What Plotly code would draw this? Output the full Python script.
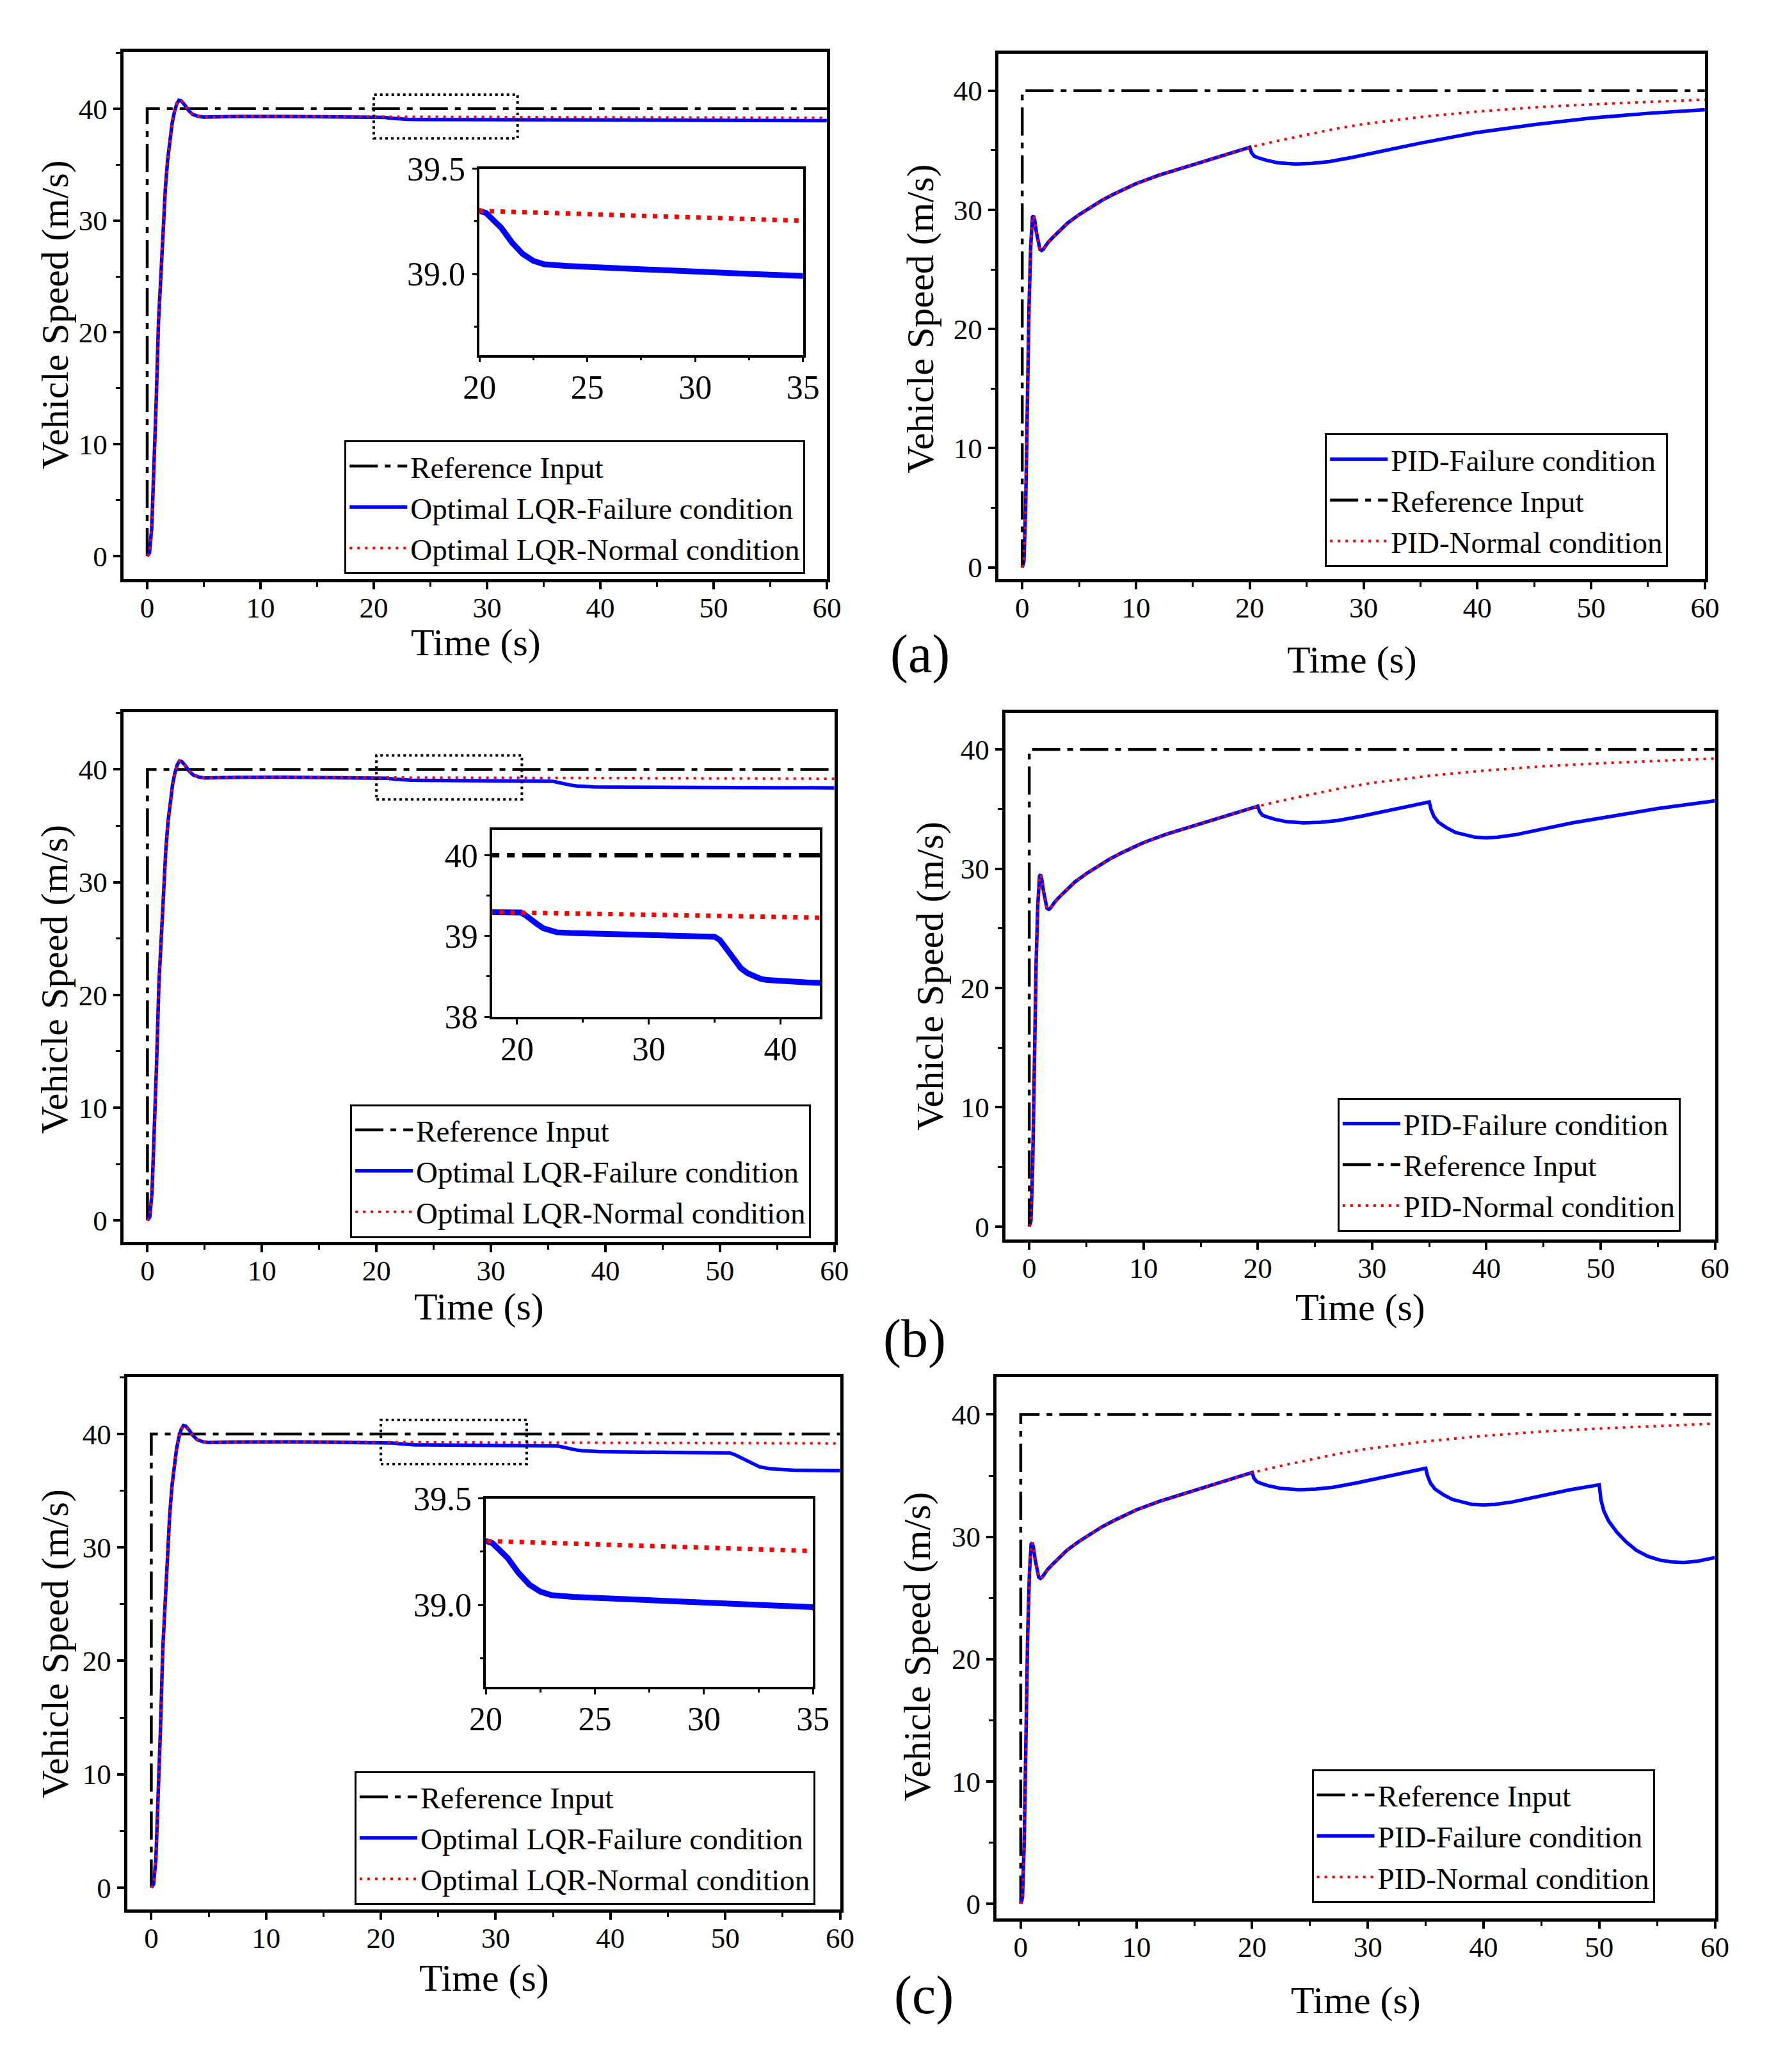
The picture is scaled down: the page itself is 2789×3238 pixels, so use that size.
import plotly.graph_objects as go

W, H = 2789, 3238
FONT = 'Liberation Serif'

# ---------------- data ----------------
# LQR, common start-up (0-20 s)
LQR_T_RISE = [0, 0.2, 0.4, 0.6, 0.8, 1.0, 1.2, 1.4, 1.6, 1.8, 2.0, 2.2, 2.4, 2.6, 2.8,
              3.0, 3.3, 3.6, 4.0, 4.5, 5.0, 6.0, 8.0, 12.0, 16.0, 20.0]
LQR_V_RISE = [0, 0.3, 2.5, 7.5, 14.0, 21.0, 25.5, 29.5, 32.8, 35.4, 37.3, 38.7, 39.7, 40.4, 40.75,
              40.7, 40.35, 39.9, 39.5, 39.32, 39.25, 39.28, 39.3, 39.31, 39.3, 39.30]
# LQR normal condition, 20-60 s
LQR_T_NORM = [20, 25, 30, 35, 40, 45, 50, 55, 60]
LQR_V_NORM = [39.30, 39.285, 39.265, 39.25, 39.235, 39.22, 39.205, 39.19, 39.175]
# LQR first actuator failure at 20 s
LQR_T_F1 = [20, 20.3, 20.7, 21, 21.5, 22, 22.5, 23, 24, 25, 27.5, 30, 32.5, 35]
LQR_V_F1 = [39.30, 39.29, 39.25, 39.22, 39.15, 39.095, 39.062, 39.046, 39.038, 39.033, 39.022,
            39.012, 39.0, 38.99]
# (a) no further failure after 35 s
LQR_T_A_TAIL = [35, 40, 45, 50, 55, 60]
LQR_V_A_TAIL = [38.99, 38.975, 38.96, 38.95, 38.94, 38.93]
# second failure at 35 s
LQR_T_F2 = [35, 35.4, 35.8, 36.2, 36.6, 37, 37.5, 38, 38.5, 39, 40, 42, 45, 50]
LQR_V_F2 = [38.99, 38.95, 38.86, 38.76, 38.67, 38.6, 38.54, 38.5, 38.47, 38.455, 38.44, 38.425,
            38.41, 38.39]
LQR_T_B_TAIL = [50, 55, 60]
LQR_V_B_TAIL = [38.39, 38.38, 38.37]
# third failure at 50 s
LQR_T_F3 = [50, 50.4, 50.8, 51.2, 51.6, 52, 52.5, 53, 54, 55, 56, 58, 60]
LQR_V_F3 = [38.39, 38.33, 38.2, 38.0, 37.78, 37.55, 37.3, 37.1, 36.93, 36.86, 36.82, 36.79, 36.77]

# PID, common start-up (0-20 s)
PID_T_RISE = [0, 0.15, 0.3, 0.45, 0.6, 0.75, 0.9, 1.0, 1.1, 1.25, 1.4, 1.55, 1.7, 1.85, 2.0,
              2.3, 2.7, 3.2, 4, 5, 6, 7, 8, 10, 12, 14, 16, 18, 20]
PID_V_RISE = [0, 0.5, 5, 14, 22, 27, 29.4, 29.5, 29.1, 28.1, 27.2, 26.7, 26.6, 26.7, 26.9,
              27.3, 27.7, 28.2, 28.9, 29.6, 30.2, 30.8, 31.3, 32.2, 32.9, 33.5, 34.1, 34.7, 35.25]
PID_T_NORM = [20, 22.5, 25, 27.5, 30, 35, 40, 45, 50, 55, 60]
PID_V_NORM = [35.25, 35.8, 36.3, 36.8, 37.2, 37.8, 38.25, 38.6, 38.85, 39.05, 39.25]
PID_T_F1 = [20, 20.15, 20.4, 20.8, 21.5, 22.5, 24, 25.5, 27, 29, 31, 33, 35]
PID_V_F1 = [35.25, 34.8, 34.5, 34.35, 34.15, 33.95, 33.85, 33.9, 34.05, 34.4, 34.8, 35.2, 35.6]
PID_T_A_TAIL = [35, 40, 45, 50, 55, 60]
PID_V_A_TAIL = [35.6, 36.5, 37.15, 37.7, 38.1, 38.4]
PID_T_F2 = [35, 35.15, 35.4, 35.8, 36.5, 37.3, 38.2, 39, 40, 41, 42.5, 45, 47.5, 50]
PID_V_F2 = [35.6, 35.0, 34.4, 33.9, 33.45, 33.05, 32.8, 32.65, 32.6, 32.65, 32.85, 33.35, 33.85, 34.25]
PID_T_B_TAIL = [50, 55, 60]
PID_V_B_TAIL = [34.25, 35.05, 35.7]
PID_T_F3 = [50, 50.15, 50.4, 50.8, 51.5, 52.3, 53.2, 54.2, 55.2, 56.2, 57.3, 58.5, 60]
PID_V_F3 = [34.25, 33.0, 32.1, 31.3, 30.4, 29.6, 28.9, 28.4, 28.1, 27.95, 27.9, 28.0, 28.3]

# reference step input
REF_T = [0, 0, 60]
REF_V = [0, 40, 40]

# dotted zoom window drawn on the LQR plots
ZOOM_BOX_X = [20, 32.7]
ZOOM_BOX_Y = [37.35, 41.25]

X_TICKS = [0, 10, 20, 30, 40, 50, 60]
Y_TICKS = [0, 10, 20, 30, 40]


def join(*segs):
    t, v = list(segs[0][0]), list(segs[0][1])
    for st, sv in segs[1:]:
        t += st[1:]
        v += sv[1:]
    return t, v


rise_l, rise_p = (LQR_T_RISE, LQR_V_RISE), (PID_T_RISE, PID_V_RISE)
lqr_norm = join(rise_l, (LQR_T_NORM, LQR_V_NORM))
lqr_fail = {
    'a': join(rise_l, (LQR_T_F1, LQR_V_F1), (LQR_T_A_TAIL, LQR_V_A_TAIL)),
    'b': join(rise_l, (LQR_T_F1, LQR_V_F1), (LQR_T_F2, LQR_V_F2), (LQR_T_B_TAIL, LQR_V_B_TAIL)),
    'c': join(rise_l, (LQR_T_F1, LQR_V_F1), (LQR_T_F2, LQR_V_F2), (LQR_T_F3, LQR_V_F3)),
}
pid_norm = join(rise_p, (PID_T_NORM, PID_V_NORM))
pid_fail = {
    'a': join(rise_p, (PID_T_F1, PID_V_F1), (PID_T_A_TAIL, PID_V_A_TAIL)),
    'b': join(rise_p, (PID_T_F1, PID_V_F1), (PID_T_F2, PID_V_F2), (PID_T_B_TAIL, PID_V_B_TAIL)),
    'c': join(rise_p, (PID_T_F1, PID_V_F1), (PID_T_F2, PID_V_F2), (PID_T_F3, PID_V_F3)),
}

# ---------------- styles ----------------
REF_LINE = dict(color='black', width=4.5, dash='44px,11px,9px,11px')
FAIL_LINE = dict(color='#0000FF', width=5.5)
NORM_LINE = dict(color='#FF0000', width=4, dash='4px,8px')
REF_LINE_IN = dict(color='black', width=7, dash='36px,12px,12px,12px')
FAIL_LINE_IN = dict(color='#0000FF', width=9)
NORM_LINE_IN = dict(color='#FF0000', width=7, dash='7px,10px')

fig = go.Figure()


def ax(n):
    return ('x', 'y') if n == 1 else (f'x{n}', f'y{n}')


def add(n, xy, name, line, legend=None):
    xa, ya = ax(n)
    fig.add_trace(go.Scatter(x=xy[0], y=xy[1], mode='lines', name=name, line=line,
                             xaxis=xa, yaxis=ya, legend=legend or 'legend',
                             showlegend=legend is not None, hoverinfo='skip'))


ref = (REF_T, REF_V)
# panel numbers: 1 a-LQR, 2 a-PID, 3 b-LQR, 4 b-PID, 5 c-LQR, 6 c-PID, 7-9 insets
for n, key, lg in [(1, 'a', 'legend'), (3, 'b', 'legend3'), (5, 'c', 'legend5')]:
    add(n, ref, 'Reference Input', REF_LINE, lg)
    add(n, lqr_fail[key], 'Optimal LQR-Failure condition', FAIL_LINE, lg)
    add(n, lqr_norm, 'Optimal LQR-Normal condition', NORM_LINE, lg)

for n, key, lg in [(2, 'a', 'legend2'), (4, 'b', 'legend4')]:
    add(n, pid_fail[key], 'PID-Failure condition', FAIL_LINE, lg)
    add(n, ref, 'Reference Input', REF_LINE, lg)
    add(n, pid_norm, 'PID-Normal condition', NORM_LINE, lg)
add(6, ref, 'Reference Input', REF_LINE, 'legend6')
add(6, pid_fail['c'], 'PID-Failure condition', FAIL_LINE, 'legend6')
add(6, pid_norm, 'PID-Normal condition', NORM_LINE, 'legend6')

for n, key in [(7, 'a'), (8, 'b'), (9, 'c')]:
    add(n, ref, 'Reference Input', REF_LINE_IN)
    add(n, lqr_fail[key], 'Optimal LQR-Failure condition', FAIL_LINE_IN)
    add(n, lqr_norm, 'Optimal LQR-Normal condition', NORM_LINE_IN)

# ---------------- layout ----------------
# plot frames in pixels: left, right, top, bottom
FRAMES = {
    1: (170, 1290, 54, 893), 2: (1563, 2688, 57, 893),
    3: (170, 1302, 1104, 1947), 4: (1574, 2704, 1105, 1943),
    5: (176, 1311, 2162, 3009), 6: (1560, 2704, 2162, 3023),
    7: (737, 1252, 240, 536), 8: (757, 1279, 1292, 1589), 9: (747, 1268, 2355, 2655),
}
Y_RANGES = {1: [-2.07, 45.08], 2: [-1.0, 43.1], 3: [-1.9, 45.1], 4: [-1.07, 43.1],
            5: [-1.93, 45.03], 6: [-1.19, 43.06]}


def base_axis(size, lw, tlen):
    return dict(showline=True, mirror=True, linewidth=lw, linecolor='black',
                ticks='outside', ticklen=tlen, tickwidth=lw - 1, tickcolor='black',
                showgrid=False, zeroline=False, fixedrange=True,
                tickfont=dict(family=FONT, size=size, color='black'))


axes = {}
for n, (l, r, t, b) in FRAMES.items():
    xa, ya = ax(n)
    xk = 'xaxis' if n == 1 else f'xaxis{n}'
    yk = 'yaxis' if n == 1 else f'yaxis{n}'
    if n <= 6:
        xd = base_axis(45, 5, 11)
        xd.update(range=[-2.1, 60], tickvals=X_TICKS, ticklabelstandoff=-10,
                  minor=dict(dtick=5, tick0=0, ticklen=7, tickwidth=3, ticks='outside'))
        yd = base_axis(45, 5, 11)
        yd.update(range=Y_RANGES[n], tickvals=Y_TICKS,
                  minor=dict(dtick=5, tick0=0, ticklen=7, tickwidth=3, ticks='outside'))
    else:
        xd = base_axis(52, 3.5, 8)
        yd = base_axis(52, 3.5, 8)
        xd.update(ticklabelstandoff=-6)
        if n == 8:
            xd.update(range=[18.1, 43], dtick=10, tick0=0,
                      minor=dict(dtick=5, tick0=0, ticklen=5, tickwidth=2.5, ticks='outside'))
            yd.update(range=[38, 40.31], dtick=1, tick0=38,
                      minor=dict(dtick=0.5, tick0=38, ticklen=5, tickwidth=2.5, ticks='outside'))
        else:
            xd.update(range=[20, 35], dtick=5, tick0=20,
                      minor=dict(dtick=2.5, tick0=20, ticklen=5, tickwidth=2.5, ticks='outside'))
            yd.update(range=[38.615, 39.5], tickvals=[39.0, 39.5], tickformat='.1f',
                      minor=dict(dtick=0.25, tick0=38.5, ticklen=5, tickwidth=2.5, ticks='outside'))
    xd.update(domain=[l / W, r / W], anchor=ya)
    yd.update(domain=[1 - b / H, 1 - t / H], anchor=xa)
    axes[xk] = xd
    axes[yk] = yd

# legends: left, top in pixels
LEGEND_POS = {'legend': (522, 672), 'legend2': (2083, 661), 'legend3': (531, 1728),
              'legend4': (2103, 1718), 'legend5': (538, 2789), 'legend6': (2062, 2786)}
legends = {}
for k, (l, t) in LEGEND_POS.items():
    legends[k] = dict(x=l / W, y=1 - t / H, xanchor='left', yanchor='top', xref='paper', yref='paper',
                      bgcolor='white', bordercolor='black', borderwidth=3, itemwidth=90,
                      font=dict(family=FONT, size=47, color='black'), tracegroupgap=0)

annotations = []


def note(text, x, y, size, angle=0):
    annotations.append(dict(text=text, x=x / W, y=1 - y / H, xref='paper', yref='paper',
                            showarrow=False, textangle=angle, xanchor='center', yanchor='middle',
                            font=dict(family=FONT, size=size, color='black')))


for x, y in [(61, 472), (1438, 479), (60, 1529), (1454, 1524), (62, 2586), (1434, 2591)]:
    note('Vehicle Speed (m/s)', x, y, 60, -90)
for x, y in [(731, 993), (2126, 1021), (736, 2050), (2139, 2051), (744, 3118), (2132, 3154)]:
    note('Time (s)', x, y, 60)
for txt, x, y in [('(a)', 1438, 1012), ('(b)', 1430, 2101), ('(c)', 1444, 3145)]:
    note(txt, x, y, 84)

shapes = []
for n in (1, 3, 5):
    xa, ya = ax(n)
    shapes.append(dict(type='rect', xref=xa, yref=ya, x0=ZOOM_BOX_X[0], x1=ZOOM_BOX_X[1],
                       y0=ZOOM_BOX_Y[0], y1=ZOOM_BOX_Y[1],
                       line=dict(color='black', width=4, dash='4px,5px')))

fig.update_layout(
    width=W, height=H, margin=dict(l=0, r=0, t=0, b=0),
    paper_bgcolor='white', plot_bgcolor='white',
    font=dict(family=FONT, color='black'),
    showlegend=True, annotations=annotations, shapes=shapes,
    **axes, **legends,
)

fig.write_html("out.html", config={'displayModeBar': False},
               post_script="document.body.style.margin='0';")
